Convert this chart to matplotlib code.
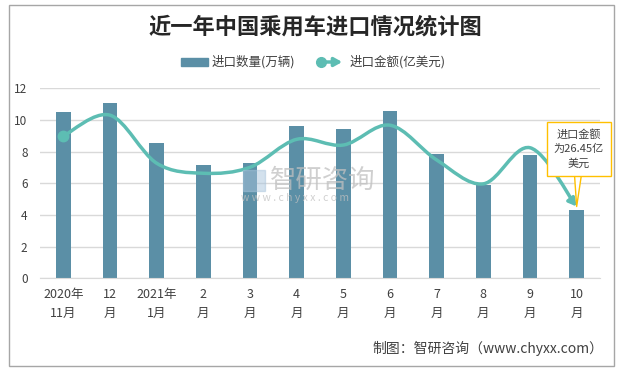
import matplotlib
matplotlib.use("Agg")
import matplotlib.pyplot as plt
import numpy as np
from matplotlib.path import Path
from matplotlib.patches import FancyArrowPatch, Rectangle
from matplotlib.lines import Line2D

plt.rcParams['font.family'] = ['Noto Sans CJK SC', 'DejaVu Sans']

categories = ["2020年\n11月", "12\n月", "2021年\n1月", "2\n月", "3\n月", "4\n月",
              "5\n月", "6\n月", "7\n月", "8\n月", "9\n月", "10\n月"]
volume = [10.50, 11.07, 8.55, 7.16, 7.28, 9.62, 9.43, 10.57, 7.85, 5.89, 7.79, 4.31]   # 万辆
amount = [52.4, 60.1, 42.4, 38.7, 40.9, 51.2, 49.1, 56.4, 43.6, 34.8, 48.1, 26.45]     # 亿美元
yticks = [0, 2, 4, 6, 8, 10, 12]

BAR = '#5b8fa6'
LINE = '#5dbdb3'
TXT = '#404040'
GOLD = '#ffc000'

W, H = 620, 371
fig = plt.figure(figsize=(W / 100, H / 100), dpi=100)

def fx(px):
    return px / W

def fy(py):
    return 1 - py / H

ax = fig.add_axes([fx(40), fy(278.3), fx(600) - fx(40), fy(88.3) - fy(278.3)])
x = np.arange(len(categories))
ax.bar(x, volume, width=0.32, color=BAR, zorder=2)
ax.set_xlim(-0.5, len(categories) - 0.5)
ax.set_ylim(0, 12)
ax.set_yticks(yticks)
ax.set_yticklabels([str(v) for v in yticks])
ax.set_xticks(x)
ax.set_xticklabels(categories, linespacing=1.55)
ax.tick_params(axis='x', length=0, pad=7, labelsize=9, colors=TXT)
ax.tick_params(axis='y', length=0, pad=9, labelsize=8.5, colors=TXT)
ax.grid(axis='y', color='#d9d9d9', linewidth=1, zorder=0)
for s in ['top', 'right', 'left']:
    ax.spines[s].set_visible(False)
ax.spines['bottom'].set_color('#d9d9d9')

ax2 = ax.twinx()
ax2.set_ylim(0, 70)
ax2.set_axis_off()

# smooth curve (Catmull-Rom -> cubic Bezier) through data points
P = np.column_stack([x, amount]).astype(float)
n = len(P)
verts = [tuple(P[0])]
codes = [Path.MOVETO]
for i in range(n - 1):
    p0 = P[i - 1] if i > 0 else P[i]
    p1 = P[i]
    p2 = P[i + 1]
    p3 = P[i + 2] if i + 2 < n else P[i + 1]
    c1 = p1 + (p2 - p0) / 6.0
    c2 = p2 - (p3 - p1) / 6.0
    verts += [tuple(c1), tuple(c2), tuple(p2)]
    codes += [Path.CURVE4] * 3
curve = Path(verts, codes)
arrow = FancyArrowPatch(path=curve, arrowstyle='-|>,head_length=4.5,head_width=2.5',
                        color=LINE, lw=2.5, mutation_scale=1,
                        transform=ax2.transData, zorder=4)
ax2.add_patch(arrow)
ax2.plot([x[0]], [amount[0]], 'o', color=LINE, markersize=7.5, zorder=5)

# callout
ax2.annotate("进口金额\n为26.45亿\n美元", xy=(x[-1], amount[-1]),
             xytext=(fx(579), fy(149)), textcoords='figure fraction',
             ha='center', va='center', fontsize=8, color=TXT, linespacing=1.5,
             annotation_clip=False, zorder=6,
             bbox=dict(boxstyle='square,pad=0.6', fc='white', ec=GOLD, lw=1),
             arrowprops=dict(arrowstyle='wedge,tail_width=0.6,shrink_factor=0.5',
                             fc='white', ec=GOLD, lw=1, shrinkA=0, shrinkB=0))

# title
fig.text(0.508, fy(27), "近一年中国乘用车进口情况统计图", ha='center', va='center',
         fontsize=16, fontweight='bold', color='#262626')

# legend
fig.patches.append(Rectangle((fx(181), fy(66)), fx(208) - fx(181), fy(58) - fy(66),
                             transform=fig.transFigure, color=BAR))
fig.text(fx(212), fy(62), "进口数量(万辆)", ha='left', va='center', fontsize=9, color=TXT)
leg_arrow = FancyArrowPatch((fx(320), fy(62)), (fx(345), fy(62)),
                            transform=fig.transFigure,
                            arrowstyle='-|>,head_length=4.5,head_width=2.5',
                            mutation_scale=1, color=LINE, lw=2.5)
fig.patches.append(leg_arrow)
fig.lines.append(Line2D([fx(321)], [fy(62)], marker='o', color=LINE, markersize=7,
                        transform=fig.transFigure))
fig.text(fx(350), fy(62), "进口金额(亿美元)", ha='left', va='center', fontsize=9, color=TXT)

# watermark
fig.patches.append(Rectangle((fx(243), fy(191)), fx(265) - fx(243), fy(170) - fy(191),
                             transform=fig.transFigure, color='#a9c4dc', alpha=0.5, zorder=3))
fig.text(fx(270), fy(180), "智研咨询", ha='left', va='center', fontsize=19,
         color='#c0c0c0', alpha=0.75, zorder=3)
fig.text(fx(241), fy(198), "w w w . c h y x x . c o m", ha='left', va='center',
         fontsize=7.5, color='#c0c0c0', alpha=0.75, zorder=3)

# footer
fig.text(fx(603), fy(348), "制图：智研咨询（www.chyxx.com）", ha='right', va='center',
         fontsize=10, color=TXT)

# border
fig.patches.append(Rectangle((fx(9), fy(366)), fx(614) - fx(9), fy(5) - fy(366),
                             transform=fig.transFigure, fill=False, ec='#a6a6a6', lw=1))

fig.savefig("out.png", dpi=100)
